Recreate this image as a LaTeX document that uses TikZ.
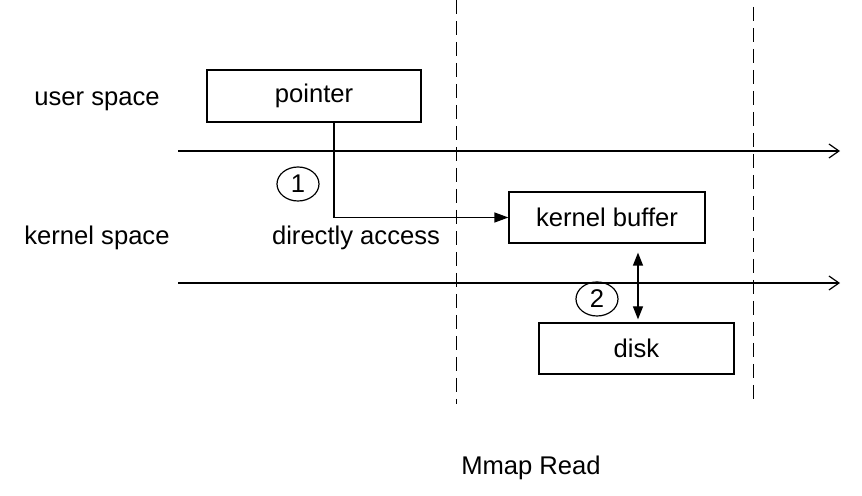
\documentclass[tikz,border=0pt]{standalone}
\usepackage{fontspec}
\setmainfont{Liberation Sans}
\usetikzlibrary{arrows.meta,shapes.geometric}

\begin{document}
\begin{tikzpicture}[
    x=0.5pt, y=-0.5pt,
    line width=0.6pt,
    every node/.style={font=\fontsize{12.8}{15}\selectfont},
    memory box/.style={draw, rectangle, minimum height=25.5pt, inner sep=0pt},
    step mark/.style={draw, ellipse, minimum width=21pt, minimum height=17pt, inner sep=0pt},
    space line/.style={-{Straight Barb[length=5pt,width=7pt]}},
    boundary line/.style={line width=0.5pt, dash pattern=on 7pt off 3.5pt}
]
    \useasboundingbox (0,0) rectangle (862,496);

    % Space labels
    \node (user) at (97,101) {user space};
    \node (kernel) at (97,238) {kernel space};

    % Boundaries between user and kernel space
    \coordinate (u1) at (178,151);
    \coordinate (u2) at (840,151);
    \coordinate (k1) at (178,283);
    \coordinate (k2) at (840,283);
    \draw[space line] (u1) -- (u2);
    \draw[space line] (k1) -- (k2);

    % Dashed section lines
    \coordinate (d1top) at (456,0);
    \coordinate (d1bot) at (456,404);
    \coordinate (d2top) at (753,7);
    \coordinate (d2bot) at (753,400);
    \draw[boundary line] (d1top) -- (d1bot);
    \draw[boundary line] (d2top) -- (d2bot);

    % Boxes
    \node[memory box, minimum width=107pt, minimum height=26pt] (pointer) at (314,96) {pointer};
    \node[memory box, minimum width=98pt] (kbuf) at (607,217.5) {kernel buffer};
    \node[memory box, minimum width=97.5pt] (disk) at (636.5,348.5) {disk};

    % Step 1: mapped access
    \draw[-{Triangle[length=7pt,width=5pt]}] ([xshift=10pt]pointer.south) |- (kbuf.west);
    \node[step mark] (s1) at (298,184) {1};
    \node (access) at (356,238) {directly access};

    % Step 2: page in from disk
    \coordinate (dx) at (638,0);
    \draw[{Triangle[length=6.5pt,width=5pt]}-{Triangle[length=6.5pt,width=5pt]}, shorten <=4.5pt, shorten >=1.5pt]
        (kbuf.south -| dx) -- (disk.north -| dx);
    \node[step mark] (s2) at (597,299) {2};

    % Caption
    \node (caption) at (531,468) {Mmap Read};
\end{tikzpicture}
\end{document}
